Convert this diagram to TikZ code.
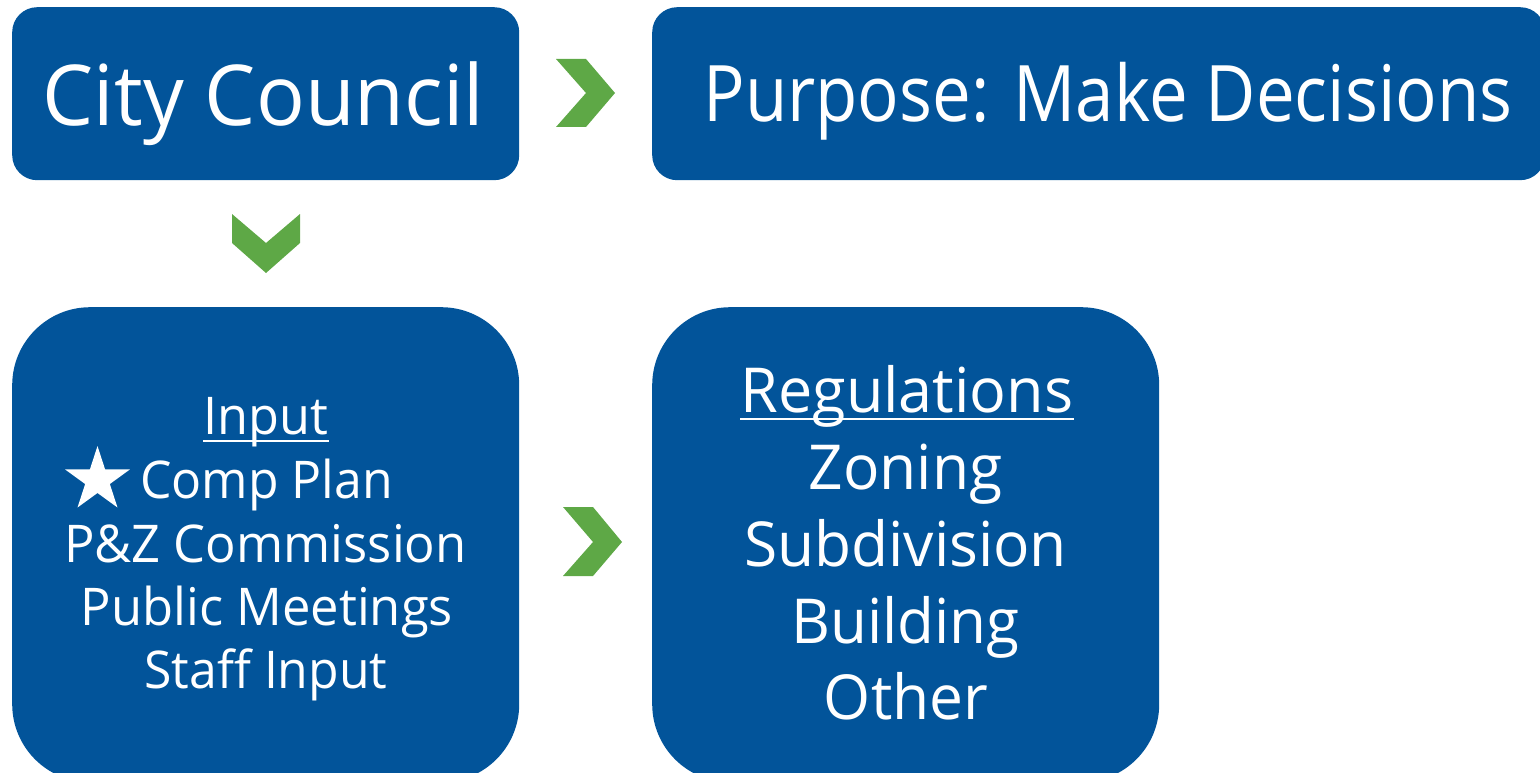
\documentclass[tikz,border=0pt]{standalone}
\usepackage{fontspec}
\setmainfont{Open Sans}
\usetikzlibrary{shapes.geometric}
\definecolor{boxblue}{RGB}{2,84,154}
\definecolor{chevgreen}{RGB}{94,168,70}
\newcommand{\hsq}[2]{\scalebox{#1}[1]{#2}}
\begin{document}
\begin{tikzpicture}[x=1pt,y=-1pt,
  box/.style={fill=boxblue, draw=none, inner sep=0pt, anchor=north west},
  chev/.style={fill=chevgreen, draw=none},
  txt/.style={text=white, inner sep=0pt, anchor=base},
  big/.style={font=\fontsize{84}{84}\selectfont},
  mid/.style={font=\fontsize{78}{78}\selectfont},
  inl/.style={font=\fontsize{52}{52}\selectfont},
  regl/.style={font=\fontsize{62}{62}\selectfont},
  uline/.style={draw=white, line width=2.6pt},
]
\useasboundingbox (0,0) rectangle (1540,773);
\clip (0,0) rectangle (1540,773);
% boxes
\node[box, rounded corners=25pt, minimum width=507pt, minimum height=173pt] (council) at (12,7) {};
\node[box, rounded corners=25pt, minimum width=893pt, minimum height=173pt] (purpose) at (652,7) {};
\node[box, rounded corners=78pt, minimum width=507pt, minimum height=475pt] (input) at (12,307) {};
\node[box, rounded corners=78pt, minimum width=507pt, minimum height=475pt] (regs) at (652,307) {};
% chevrons
\path[chev] (556,59) -- (586,59) -- (615,93) -- (586,127) -- (556,127) -- (586,93) -- cycle;
\path[chev] (232,214) -- (266,243) -- (300,214) -- (300,243) -- (266,273) -- (232,243) -- cycle;
\path[chev] (563,507) -- (593,507) -- (622,542) -- (593,576) -- (563,576) -- (593,542) -- cycle;
% texts
\node[txt, big] (tcouncil) at (263.5,126) {\hsq{0.965}{City Council}};
\node[txt, mid] (tpurpose) at (1108,122) {\hsq{0.885}{Purpose: Make Decisions}};
\node[txt, inl] (tinput) at (266,434) {\hsq{0.97}{Input}};
\draw[uline] ([yshift=-7pt]tinput.base west) -- ([yshift=-7pt]tinput.base east);
\node[star, star points=5, star point ratio=2.618, minimum size=68pt, inner sep=0pt, fill=white, draw=none] (star) at (97.5,480) {};
\node[txt, inl, anchor=base west] (tcomp) at (140,498) {\hsq{0.96}{Comp Plan}};
\node[txt, inl] (tpz) at (265.5,562) {\hsq{0.975}{P\&Z Commission}};
\node[txt, inl] (tpub) at (267,625) {\hsq{0.975}{Public Meetings}};
\node[txt, inl] (tstaff) at (266,688) {\hsq{0.96}{Staff Input}};
\node[txt, regl] (treg) at (907,412) {\hsq{0.985}{Regulations}};
\draw[uline] ([yshift=-7pt]treg.base west) -- ([yshift=-7pt]treg.base east);
\node[txt, regl] (tzon) at (905.5,489) {\hsq{0.975}{Zoning}};
\node[txt, regl] (tsub) at (905.5,566) {\hsq{0.975}{Subdivision}};
\node[txt, regl] (tbld) at (905.5,643) {\hsq{0.97}{Building}};
\node[txt, regl] (toth) at (906,719) {\hsq{0.975}{Other}};
\end{tikzpicture}
\end{document}
